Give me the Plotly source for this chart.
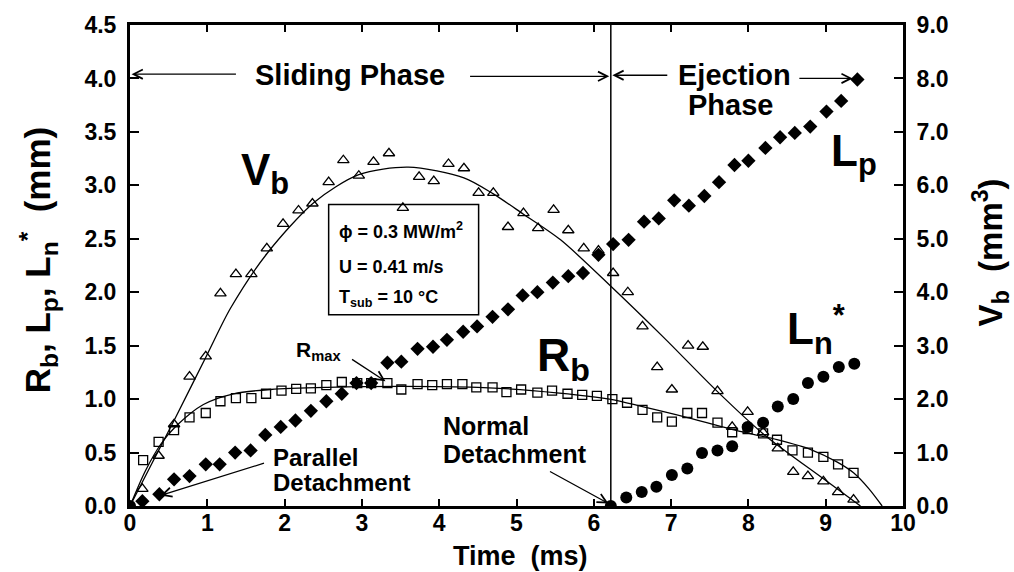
import plotly.graph_objects as go

# ---------------- data ----------------
# Bubble volume Vb (mm^3), open triangles, right axis
t_vb = [0.16, 0.37, 0.57, 0.77, 0.98, 1.17, 1.37, 1.57, 1.77, 1.98, 2.18, 2.36, 2.57, 2.76, 2.96,
        3.15, 3.35, 3.53, 3.74, 3.93, 4.12, 4.32, 4.51, 4.70, 4.89, 5.09, 5.28, 5.48, 5.67, 5.87,
        6.06, 6.25, 6.44, 6.63, 6.82, 7.01, 7.22, 7.41, 7.60, 7.79, 7.99, 8.19, 8.38, 8.58, 8.77,
        8.97, 9.16, 9.36]
vb = [0.32, 0.94, 1.53, 2.42, 2.80, 3.98, 4.34, 4.34, 4.82, 5.28, 5.53, 5.66, 6.06, 6.47, 6.18,
      6.44, 6.60, 5.58, 6.16, 6.08, 6.40, 6.32, 5.86, 5.86, 5.22, 5.48, 5.20, 5.54, 5.16, 4.82,
      4.78, 4.36, 4.00, 3.36, 2.60, 2.18, 3.00, 2.98, 2.15, 1.48, 1.76, 1.38, 1.08, 0.64, 0.56,
      0.46, 0.26, 0.12]
# Vb fitted curve (mm^3)
t_vb_fit = [0, 0.15, 0.37, 0.57, 1.0, 1.3, 1.77, 2.38, 2.96, 3.6, 4.32, 4.70, 5.09, 5.57, 6.2,
            6.9, 7.6, 8.2, 8.98, 9.45]
vb_fit = [0, 0.42, 1.04, 1.60, 2.84, 3.70, 4.72, 5.68, 6.20, 6.34, 6.14, 5.84, 5.46, 4.98, 4.14,
          3.16, 2.14, 1.34, 0.50, 0.0]

# Bubble radius Rb (mm), open squares
t_rb = [0.17, 0.37, 0.57, 0.77, 0.98, 1.17, 1.37, 1.57, 1.76, 1.96, 2.15, 2.34, 2.54, 2.74, 2.94,
        3.12, 3.33, 3.51, 3.72, 3.91, 4.10, 4.30, 4.48, 4.69, 4.87, 5.06, 5.27, 5.46, 5.66, 5.85,
        6.04, 6.24, 6.43, 6.63, 6.82, 7.01, 7.21, 7.40, 7.60, 7.79, 7.99, 8.19, 8.37, 8.57, 8.77,
        8.97, 9.16, 9.36]
rb = [0.43, 0.60, 0.71, 0.83, 0.87, 0.98, 1.01, 1.01, 1.05, 1.08, 1.095, 1.10, 1.13, 1.16, 1.15,
      1.15, 1.15, 1.09, 1.14, 1.13, 1.14, 1.14, 1.11, 1.11, 1.065, 1.09, 1.06, 1.08, 1.05, 1.04,
      1.03, 1.00, 0.966, 0.90, 0.83, 0.79, 0.87, 0.87, 0.78, 0.69, 0.72, 0.68, 0.62, 0.52, 0.50,
      0.46, 0.39, 0.31]
# Rb fitted curve (mm)
t_rb_fit = [0, 0.2, 0.4, 0.6, 0.95, 1.34, 1.82, 2.55, 3.5, 4.5, 5.2, 6.2, 6.63, 7.2, 7.77, 8.37,
            8.8, 9.15, 9.36, 9.56, 9.73]
rb_fit = [0, 0.33, 0.58, 0.75, 0.95, 1.05, 1.09, 1.11, 1.12, 1.11, 1.08, 1.00, 0.93, 0.83, 0.72,
          0.62, 0.53, 0.41, 0.31, 0.16, 0.0]

# Parallel distance Lp (mm), filled diamonds
t_lp = [0.16, 0.38, 0.57, 0.77, 0.98, 1.16, 1.36, 1.56, 1.75, 1.95, 2.14, 2.34, 2.54, 2.74, 2.93,
        3.12, 3.33, 3.51, 3.72, 3.92, 4.10, 4.31, 4.49, 4.69, 4.89, 5.08, 5.27, 5.47, 5.67, 5.86,
        6.06, 6.25, 6.45, 6.65, 6.84, 7.04, 7.23, 7.43, 7.62, 7.82, 8.00, 8.22, 8.41, 8.60, 8.80,
        9.01, 9.20, 9.41]
lp = [0.045, 0.11, 0.25, 0.28, 0.39, 0.39, 0.50, 0.52, 0.665, 0.74, 0.80, 0.89, 0.98, 1.05, 1.15,
      1.15, 1.34, 1.35, 1.47, 1.49, 1.555, 1.63, 1.68, 1.77, 1.84, 1.97, 2.00, 2.09, 2.15, 2.18,
      2.35, 2.45, 2.49, 2.66, 2.69, 2.86, 2.81, 2.90, 3.03, 3.19, 3.23, 3.35, 3.45, 3.49, 3.55,
      3.69, 3.79, 3.99]

# Normal distance Ln* (mm), filled circles
t_ln = [0.0, 6.22, 6.42, 6.62, 6.81, 7.01, 7.21, 7.40, 7.60, 7.79, 7.99, 8.19, 8.38, 8.58, 8.77,
        8.97, 9.17, 9.37]
ln = [0.0, 0.0, 0.08, 0.13, 0.18, 0.29, 0.35, 0.495, 0.52, 0.56, 0.74, 0.78, 0.93, 1.00, 1.15,
      1.21, 1.30, 1.33]

t_detach = 6.22
x_ticks = list(range(0, 11))
y_ticks = [0.0, 0.5, 1.0, 1.5, 2.0, 2.5, 3.0, 3.5, 4.0, 4.5]
y2_ticks = [0.0, 1.0, 2.0, 3.0, 4.0, 5.0, 6.0, 7.0, 8.0, 9.0]

FONT = "Liberation Sans, Arial, Helvetica, sans-serif"

fig = go.Figure()

fig.add_trace(go.Scatter(x=t_vb_fit, y=vb_fit, mode="lines", yaxis="y2",
                         line=dict(color="black", width=1.3, shape="spline", smoothing=0.8)))
fig.add_trace(go.Scatter(x=t_rb_fit, y=rb_fit, mode="lines",
                         line=dict(color="black", width=1.3, shape="spline", smoothing=0.8)))
fig.add_trace(go.Scatter(x=t_vb, y=vb, mode="markers", yaxis="y2",
                         marker=dict(symbol="triangle-up-open", size=10, color="black",
                                     line=dict(width=1.3, color="black"))))
fig.add_trace(go.Scatter(x=t_rb, y=rb, mode="markers",
                         marker=dict(symbol="square-open", size=9, color="black",
                                     line=dict(width=1.3, color="black"))))
fig.add_trace(go.Scatter(x=t_lp, y=lp, mode="markers",
                         marker=dict(symbol="diamond", size=11, color="black")))
fig.add_trace(go.Scatter(x=t_ln, y=ln, mode="markers",
                         marker=dict(symbol="circle", size=12, color="black")))

# vertical separation line
fig.add_shape(type="line", x0=t_detach, x1=t_detach, y0=0, y1=4.5, xref="x", yref="y",
              line=dict(color="black", width=1.5))
# parameter box
fig.add_shape(type="rect", x0=2.57, x1=4.51, y0=1.79, y1=2.82, xref="x", yref="y",
              line=dict(color="black", width=1.5))


def txt(x, y, s, size, xanchor="center", xref="x", yref="y", angle=0):
    fig.add_annotation(x=x, y=y, text="<b>" + s + "</b>", showarrow=False, xref=xref, yref=yref,
                       xanchor=xanchor, yanchor="middle", textangle=angle,
                       font=dict(family=FONT, size=size, color="black"))


def arrow(x_head, y_head, x_tail, y_tail):
    fig.add_annotation(x=x_head, y=y_head, ax=x_tail, ay=y_tail, xref="x", yref="y",
                       axref="x", ayref="y", text="", showarrow=True, arrowhead=5,
                       arrowsize=1.4, arrowwidth=1.3, arrowcolor="black", standoff=0)


txt(2.85, 4.03, "Sliding Phase", 29)
arrow(0.02, 4.04, 1.39, 4.04)
arrow(6.20, 4.02, 4.38, 4.02)
txt(7.82, 4.03, "Ejection", 29)
txt(7.77, 3.75, "Phase", 29)
arrow(6.24, 4.03, 6.97, 4.03)
arrow(9.35, 4.0, 8.64, 4.0)

txt(1.75, 3.12, "V<sub>b</sub>", 44)
txt(5.61, 1.38, "R<sub>b</sub>", 46)
txt(9.36, 3.29, "L<sub>p</sub>", 44)
txt(8.87, 1.65, "L<sub>n</sub><sup>*</sup>", 44)

txt(2.44, 1.45, "R<sub>max</sub>", 21)
arrow(3.305, 1.167, 2.853, 1.381)

txt(1.818, 0.451, "Parallel", 24, xanchor="left")
txt(1.818, 0.219, "Detachment", 24, xanchor="left")
arrow(0.395, 0.098, 1.753, 0.405)

txt(4.017, 0.749, "Normal", 25, xanchor="left")
txt(4.017, 0.488, "Detachment", 25, xanchor="left")
arrow(6.19, 0.023, 5.414, 0.33)

txt(2.684, 2.581, "ϕ = 0.3 MW/m<sup>2</sup>", 18, xanchor="left")
txt(2.684, 2.237, "U = 0.41 m/s", 18, xanchor="left")
txt(2.684, 1.940, "T<sub>sub</sub> = 10 °C", 18, xanchor="left")

# axis titles
txt(-0.1184, 0.512, "R<sub>b</sub>, L<sub>p</sub>, L<sub>n</sub><sup>*</sup>  (mm)", 35,
    xref="paper", yref="paper", angle=-90)
txt(1.113, 0.528, "V<sub>b</sub>  (mm<sup>3</sup>)", 33, xref="paper", yref="paper", angle=-90)
txt(0.505, -0.104, "Time  (ms)", 27, xref="paper", yref="paper")

tickfont = dict(family=FONT, size=23, color="black", weight="bold")

fig.update_layout(
    width=1014, height=572,
    margin=dict(l=130, r=111, t=22, b=66),
    paper_bgcolor="white", plot_bgcolor="white",
    showlegend=False,
    xaxis=dict(range=[0, 10], tickvals=x_ticks, ticks="inside", ticklen=7, tickwidth=1.5,
               tickcolor="black", showline=True, linewidth=3, linecolor="black",
               mirror="ticks", showgrid=False, zeroline=False, tickfont=tickfont,
               ticklabelstandoff=-6),
    yaxis=dict(range=[0, 4.5], tickvals=y_ticks, tickformat=".1f", ticks="inside", ticklen=9,
               tickwidth=1.5, tickcolor="black", showline=True, linewidth=3, linecolor="black",
               showgrid=False, zeroline=False, tickfont=tickfont, ticklabelstandoff=6),
    yaxis2=dict(range=[0, 9], tickvals=y2_ticks, tickformat=".1f", overlaying="y", side="right",
                ticks="inside", ticklen=9, tickwidth=1.5, tickcolor="black", showline=True,
                linewidth=3, linecolor="black", showgrid=False, zeroline=False,
                tickfont=tickfont, ticklabelstandoff=6),
)

fig.write_html("out.html")
